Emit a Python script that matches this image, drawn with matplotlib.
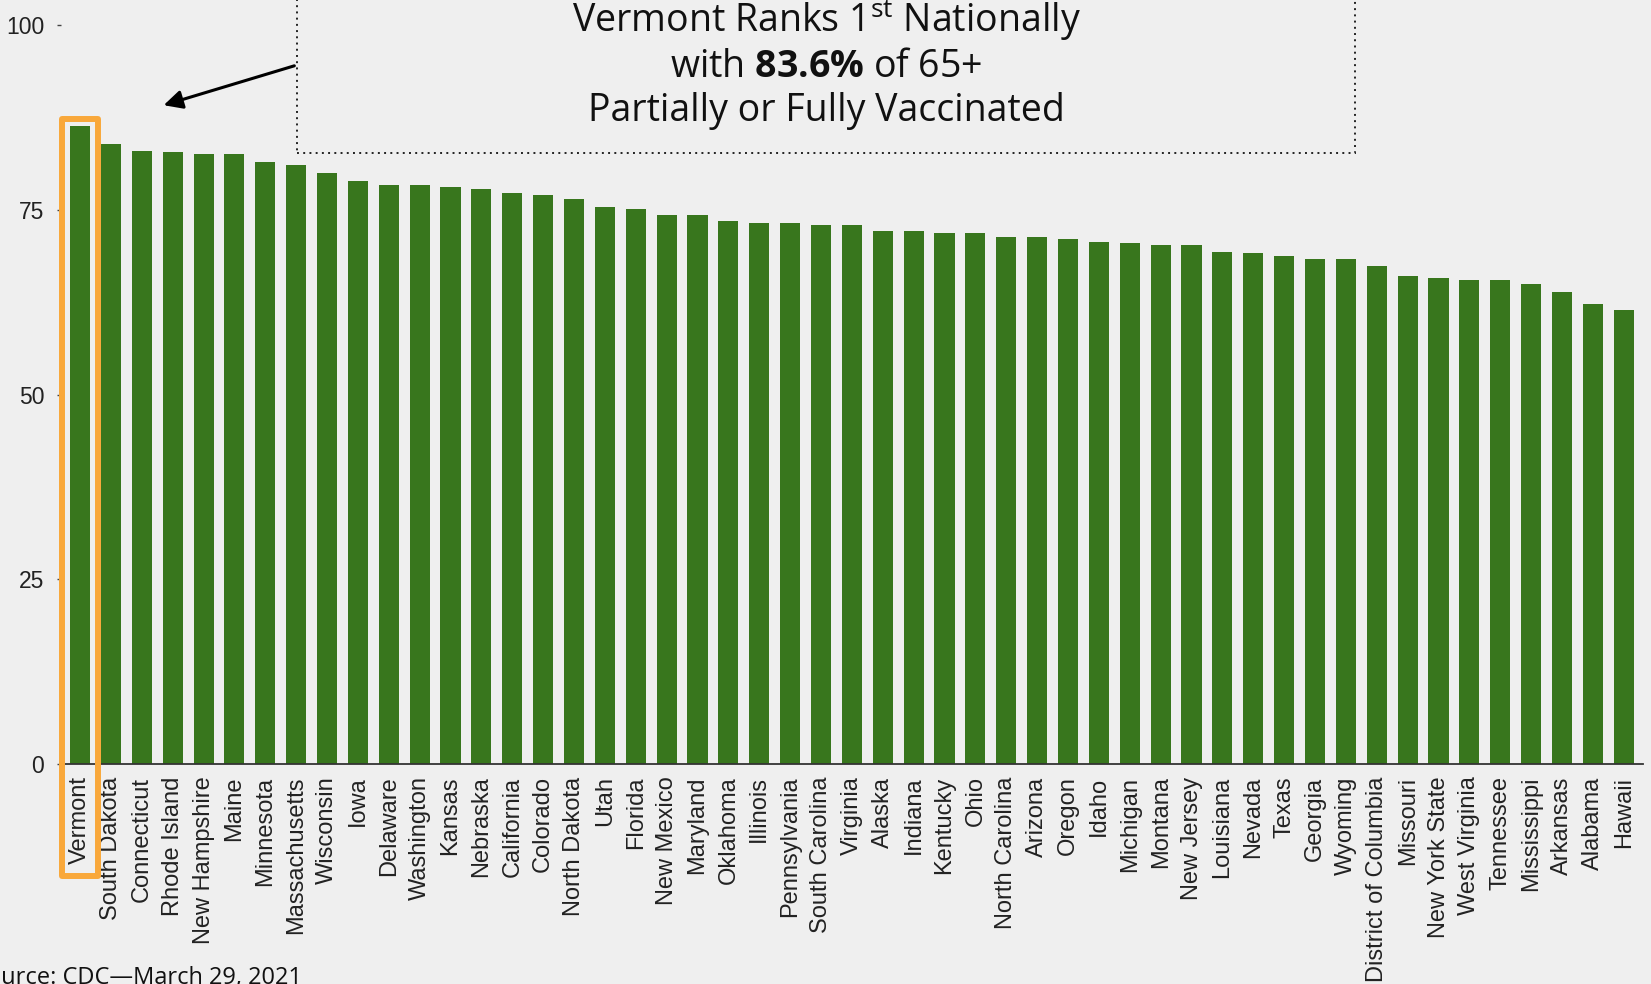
import matplotlib.pyplot as plt
from matplotlib.patches import Rectangle, FancyArrowPatch

states = ["Vermont", "South Dakota", "Connecticut", "Rhode Island", "New Hampshire",
          "Maine", "Minnesota", "Massachusetts", "Wisconsin", "Iowa", "Delaware",
          "Washington", "Kansas", "Nebraska", "California", "Colorado", "North Dakota",
          "Utah", "Florida", "New Mexico", "Maryland", "Oklahoma", "Illinois",
          "Pennsylvania", "South Carolina", "Virginia", "Alaska", "Indiana", "Kentucky",
          "Ohio", "North Carolina", "Arizona", "Oregon", "Idaho", "Michigan", "Montana",
          "New Jersey", "Louisiana", "Nevada", "Texas", "Georgia", "Wyoming",
          "District of Columbia", "Missouri", "New York State", "West Virginia",
          "Tennessee", "Mississippi", "Arkansas", "Alabama", "Hawaii"]
pct = [86.3, 83.9, 83.0, 82.8, 82.5, 82.5, 81.4, 81.1, 80.0, 78.9, 78.4,
       78.4, 78.1, 77.8, 77.3, 77.0, 76.5, 75.4, 75.1, 74.3, 74.3, 73.5, 73.2,
       73.2, 72.9, 73.0, 72.1, 72.1, 71.8, 71.8, 71.3, 71.3, 71.0, 70.7, 70.5, 70.2,
       70.2, 69.3, 69.1, 68.8, 68.3, 68.3, 67.4, 66.1, 65.8, 65.5,
       65.5, 65.0, 63.9, 62.2, 61.4]
yticks = [0, 25, 50, 75, 100]

bg = "#efefef"
green = "#38761d"
W, H = 1651, 984

plt.rcParams['mathtext.fontset'] = 'custom'
plt.rcParams['mathtext.rm'] = 'Open Sans'
plt.rcParams['mathtext.bf'] = 'Open Sans:bold'

fig = plt.figure(figsize=(W / 100, H / 100), dpi=100, facecolor=bg)
ax = fig.add_axes([60.9 / W, 220 / H, 1582 / W, 739 / H])
ax.set_facecolor(bg)

x = range(len(states))
ax.bar(x, pct, width=0.65, color=green, zorder=2)

ax.set_xlim(-0.62, len(states) - 0.38)
ax.set_ylim(0, 100)
ax.set_yticks(yticks)
ax.set_yticklabels([str(t) for t in yticks], fontsize=16.5, family='Liberation Sans', color='#222222')
ax.set_xticks(list(x))
ax.set_xticklabels(states, rotation=90, fontsize=17, family='Liberation Sans', color='#222222')
ax.tick_params(axis='x', length=0, pad=9)
ax.tick_params(axis='y', length=3, width=1, color='#444444', pad=9)
for s in ['top', 'right', 'left']:
    ax.spines[s].set_visible(False)
ax.spines['bottom'].set_color('#333333')
ax.spines['bottom'].set_linewidth(1.3)

# orange highlight around Vermont
hl = Rectangle((-0.57, -15.2), 1.15, 87.3 + 15.2, fill=False, edgecolor='#f9a83b',
               linewidth=4.3, joinstyle='round', clip_on=False, zorder=5)
ax.add_patch(hl)

# dotted callout box (top edge runs off the figure)
box = Rectangle((297 / W, 1 - 153 / H), (1355 - 297) / W, 0.2, transform=fig.transFigure,
                fill=False, edgecolor='#222222', linewidth=1.4, linestyle=(0, (1, 2.2)),
                clip_on=False)
fig.patches.append(box)

cx = 826 / W
fs = 27
fig.text(cx, 1 - 32 / H, r"Vermont Ranks 1$^{\mathrm{st}}$ Nationally", ha='center', va='baseline',
         fontsize=fs, family='Open Sans', color='#111111')
fig.text(cx, 1 - 77 / H, r"with $\mathbf{83.6\%}$ of 65+", ha='center', va='baseline',
         fontsize=fs, family='Open Sans', color='#111111')
fig.text(cx, 1 - 121 / H, "Partially or Fully Vaccinated", ha='center', va='baseline',
         fontsize=fs, family='Open Sans', color='#111111')

fig.patches.append(FancyArrowPatch(
    (297 / W, 1 - 65 / H), (161 / W, 1 - 106 / H), transform=fig.transFigure,
    arrowstyle='-|>', mutation_scale=28, linewidth=2.2, color='black'))

fig.text(302 / W, 0.0, "Source: CDC\u2014March 29, 2021", ha='right', va='baseline',
         fontsize=17, family='Open Sans', color='#111111')

fig.savefig("out.png", dpi=100, facecolor=bg)
